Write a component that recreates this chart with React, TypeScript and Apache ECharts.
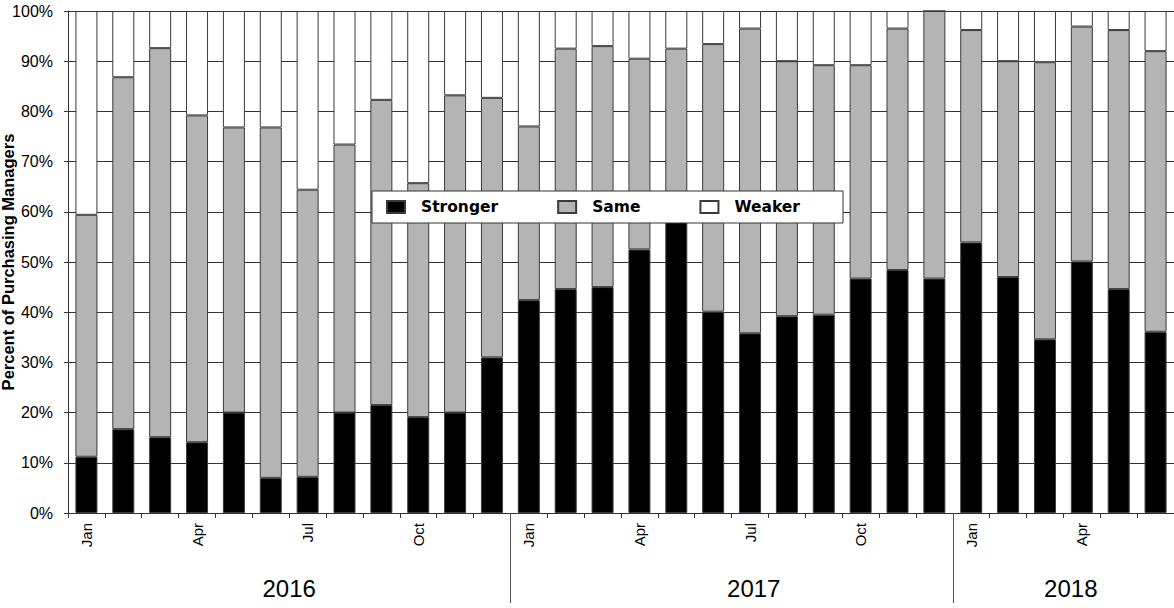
import { useEffect, useRef } from "react";
import * as echarts from "echarts";

const monthNames = ["Jan", "Feb", "Mar", "Apr", "May", "Jun", "Jul", "Aug", "Sep", "Oct", "Nov", "Dec"];
const years = ["2016", "2017", "2018"];
const monthsPerYear = [12, 12, 6];

const stronger = [
  11.2, 16.7, 15.1, 14.1, 20.0, 7.0, 7.2, 20.0, 21.5, 19.1, 20.0, 31.0,
  42.4, 44.6, 45.0, 52.5, 60.0, 40.1, 35.8, 39.2, 39.5, 46.7, 48.4, 46.7,
  53.9, 47.0, 34.6, 50.1, 44.6, 36.1,
];
const same = [
  48.2, 70.1, 77.5, 65.1, 56.8, 69.8, 57.2, 53.4, 60.8, 46.6, 63.2, 51.7,
  34.6, 47.9, 48.0, 38.0, 32.5, 53.3, 60.7, 50.8, 49.7, 42.5, 48.1, 53.3,
  42.3, 43.0, 55.2, 46.8, 51.6, 55.9,
];
const weaker = [
  40.6, 13.2, 7.4, 20.8, 23.2, 23.2, 35.6, 26.6, 17.7, 34.3, 16.8, 17.3,
  23.0, 7.5, 7.0, 9.5, 7.5, 6.6, 3.5, 10.0, 10.8, 10.8, 3.5, 0.0,
  3.8, 10.0, 10.2, 3.1, 3.8, 8.0,
];

const categories: string[] = [];
monthsPerYear.forEach((n) => {
  for (let i = 0; i < n; i++) categories.push(monthNames[i]);
});
const yearBoundaries: number[] = [];
{
  let acc = 0;
  for (let i = 0; i < monthsPerYear.length - 1; i++) {
    acc += monthsPerYear[i];
    yearBoundaries.push(acc);
  }
}
const yearLabelAt = [6, 18.6, 27.2];

export default function App() {
  const ref = useRef<HTMLDivElement>(null);
  useEffect(() => {
    if (!ref.current) return;
    const chart = echarts.init(ref.current, undefined, { renderer: "svg" });
    const border = "#3a3a3a";
    const font = "'Liberation Sans', Arial, sans-serif";
    chart.setOption({
      animation: false,
      backgroundColor: "#ffffff",
      grid: {
        left: 68,
        right: 0,
        top: 11,
        bottom: 95,
        containLabel: false,
        outerBoundsMode: "none",
      },
      legend: {
        left: 372,
        top: 191,
        z: 20,
        orient: "horizontal",
        backgroundColor: "#ffffff",
        borderColor: "#333333",
        borderWidth: 1,
        padding: [8, 43, 8, 14],
        itemWidth: 18,
        itemHeight: 12,
        itemGap: 59,
        icon: "rect",
        textStyle: {
          fontFamily: "'DejaVu Sans', Verdana, sans-serif",
          fontWeight: "bold",
          fontSize: 15.5,
          color: "#000",
          padding: [0, 0, 0, 11],
        },
        data: ["Stronger", "Same", "Weaker"],
      },
      xAxis: [
        {
          type: "category",
          data: categories,
          boundaryGap: true,
          axisLine: { show: true, lineStyle: { color: "#333", width: 1 } },
          axisTick: { show: true, interval: 0, length: 5, lineStyle: { color: "#333" } },
          axisLabel: {
            interval: 2,
            rotate: 90,
            margin: 10,
            fontFamily: font,
            fontSize: 15,
            color: "#000",
          },
          splitLine: { show: false },
        },
        {
          type: "value",
          min: 0,
          max: categories.length,
          position: "bottom",
          axisLine: { show: false },
          splitLine: { show: false },
          axisTick: {
            show: true,
            customValues: yearBoundaries,
            length: 90,
            lineStyle: { color: "#555", width: 1 },
          },
          axisLabel: {
            customValues: yearLabelAt,
            margin: 63,
            fontFamily: font,
            fontSize: 24,
            color: "#000",
            formatter: (v: number) => {
              let best = 0;
              yearLabelAt.forEach((p, i) => {
                if (Math.abs(p - v) < Math.abs(yearLabelAt[best] - v)) best = i;
              });
              return years[best];
            },
          },
        },
      ],
      yAxis: {
        type: "value",
        min: 0,
        max: 100,
        interval: 10,
        name: "Percent of Purchasing Managers",
        nameLocation: "middle",
        nameGap: 52,
        nameMoveOverlap: false,
        nameTextStyle: { fontFamily: font, fontWeight: "bold", fontSize: 16.5, color: "#000" },
        axisLine: { show: true, lineStyle: { color: "#333", width: 1 } },
        axisTick: { show: true, length: 4, lineStyle: { color: "#333" } },
        axisLabel: {
          formatter: "{value}%",
          margin: 15,
          fontFamily: font,
          fontSize: 16,
          color: "#000",
        },
        splitLine: { show: true, lineStyle: { color: "#333", width: 1 } },
      },
      series: [
        {
          name: "Stronger",
          type: "bar",
          stack: "total",
          barWidth: 22,
          data: stronger,
          itemStyle: { color: "#000000", borderColor: border, borderWidth: 1 },
        },
        {
          name: "Same",
          type: "bar",
          stack: "total",
          barWidth: 22,
          data: same,
          itemStyle: { color: "#b4b4b4", borderColor: border, borderWidth: 1 },
        },
        {
          name: "Weaker",
          type: "bar",
          stack: "total",
          barWidth: 22,
          data: weaker,
          itemStyle: { color: "#ffffff", borderColor: border, borderWidth: 1 },
        },
      ],
    });
    return () => chart.dispose();
  }, []);
  return (
    <div
      ref={ref}
      style={{ position: "fixed", left: 0, top: 0, width: 1174, height: 608 }}
    />
  );
}
